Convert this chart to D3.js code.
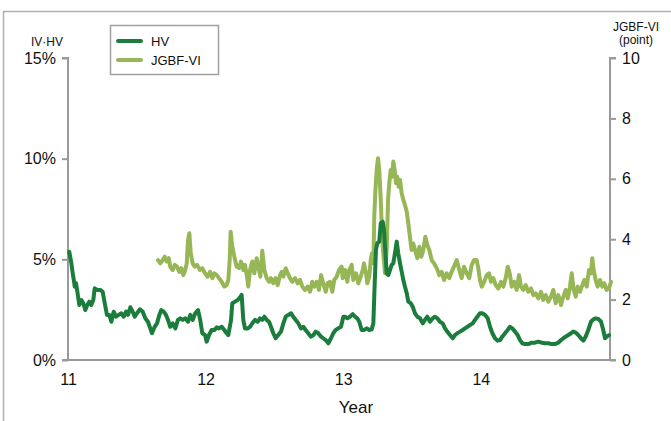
<!DOCTYPE html>
<html><head><meta charset="utf-8">
<script src="https://cdn.jsdelivr.net/npm/d3@7"></script>
<style>body{margin:0;background:#fff}svg{display:block}text{font-family:"Liberation Sans",Arial,sans-serif;fill:#111}</style>
</head><body><div id="chart"></div>
<script>
const xTickLabels = [11, 12, 13, 14];
const leftTicks = [0, 5, 10, 15];
const rightTicks = [0, 2, 4, 6, 8, 10];
const seriesNames = ["HV", "JGBF-VI"];

const hvYear = [11.009,11.024,11.034,11.044,11.049,11.058,11.068,11.082,11.097,11.111,11.126,11.140,11.155,11.169,11.184,11.194,11.211,11.235,11.252,11.267,11.283,11.300,11.315,11.332,11.349,11.368,11.387,11.405,11.422,11.436,11.453,11.470,11.485,11.504,11.523,11.543,11.562,11.581,11.598,11.610,11.630,11.647,11.664,11.678,11.695,11.712,11.727,11.743,11.761,11.780,11.799,11.816,11.834,11.852,11.872,11.889,11.906,11.925,11.945,11.961,11.976,11.996,12.008,12.025,12.044,12.063,12.081,12.097,12.117,12.136,12.153,12.165,12.185,12.194,12.214,12.233,12.250,12.262,12.274,12.286,12.306,12.323,12.339,12.359,12.379,12.395,12.412,12.427,12.444,12.461,12.475,12.492,12.509,12.528,12.548,12.565,12.582,12.601,12.621,12.637,12.655,12.674,12.693,12.710,12.727,12.746,12.766,12.783,12.800,12.819,12.839,12.855,12.873,12.892,12.911,12.928,12.945,12.964,12.984,13.001,13.013,13.030,13.049,13.069,13.086,13.102,13.117,13.134,13.151,13.171,13.190,13.207,13.219,13.229,13.238,13.248,13.262,13.273,13.287,13.297,13.304,13.316,13.328,13.340,13.352,13.364,13.376,13.389,13.400,13.413,13.425,13.437,13.449,13.462,13.473,13.491,13.505,13.522,13.539,13.558,13.578,13.594,13.611,13.631,13.650,13.667,13.684,13.703,13.723,13.740,13.756,13.776,13.796,13.813,13.829,13.849,13.868,13.885,13.902,13.922,13.941,13.958,13.975,13.994,14.011,14.031,14.050,14.067,14.084,14.103,14.123,14.140,14.156,14.176,14.195,14.212,14.229,14.249,14.268,14.285,14.302,14.321,14.345,14.370,14.394,14.418,14.443,14.467,14.491,14.515,14.539,14.563,14.583,14.600,14.617,14.636,14.656,14.672,14.690,14.708,14.728,14.745,14.762,14.781,14.801,14.818,14.835,14.854,14.874,14.890,14.903,14.915,14.932];
const hvValue = [5.38,4.82,4.32,3.89,3.64,3.82,3.39,2.73,2.98,2.82,2.48,2.73,2.90,2.73,2.98,3.56,3.48,3.48,3.39,2.82,2.24,2.24,1.90,2.40,2.15,2.24,2.32,2.15,2.40,2.24,2.62,2.40,2.15,2.35,2.52,2.40,2.07,1.90,1.57,1.33,1.65,1.82,2.24,2.48,2.40,2.24,1.99,1.65,1.82,1.57,1.99,2.07,1.99,2.07,1.90,2.24,1.99,2.32,2.48,1.99,1.33,1.24,0.91,1.24,1.49,1.49,1.62,1.57,1.65,1.49,1.33,1.24,1.99,2.82,2.90,2.98,3.11,3.23,1.99,1.57,1.57,1.65,1.82,1.99,1.90,2.07,1.99,2.15,1.99,1.90,1.65,1.33,1.08,1.24,1.41,1.82,2.15,2.24,2.32,2.15,1.99,1.82,1.57,1.65,1.49,1.33,1.16,1.24,1.41,1.33,1.16,1.08,0.99,0.83,1.08,1.33,1.49,1.57,1.65,2.15,2.15,2.07,2.15,2.28,2.15,2.07,1.90,1.49,1.49,1.57,1.49,1.52,1.82,3.81,5.46,5.80,5.88,6.79,6.87,6.46,5.63,4.31,4.22,4.47,4.72,4.80,5.30,5.88,5.30,4.80,4.39,3.97,3.64,3.31,2.90,2.82,2.65,2.32,2.15,2.07,1.82,1.99,2.15,1.90,2.07,2.15,2.07,1.90,1.82,1.57,1.41,1.24,1.08,1.24,1.33,1.41,1.49,1.57,1.65,1.74,1.82,1.99,2.15,2.32,2.32,2.24,2.07,1.65,1.33,1.08,0.96,0.99,1.16,1.33,1.49,1.65,1.57,1.41,1.24,0.99,0.83,0.79,0.79,0.86,0.86,0.91,0.86,0.83,0.83,0.79,0.79,0.86,0.99,1.08,1.16,1.24,1.33,1.41,1.36,1.24,1.08,0.96,1.16,1.49,1.90,2.02,2.07,2.04,1.90,1.49,1.08,1.16,1.24];

const viYear = [11.654,11.671,11.688,11.703,11.717,11.732,11.743,11.761,11.775,11.792,11.809,11.823,11.838,11.852,11.863,11.872,11.882,11.892,11.906,11.921,11.938,11.959,11.976,11.996,12.015,12.032,12.049,12.063,12.081,12.097,12.117,12.136,12.153,12.165,12.175,12.182,12.194,12.209,12.226,12.243,12.257,12.274,12.286,12.301,12.310,12.323,12.339,12.354,12.371,12.383,12.398,12.412,12.427,12.444,12.461,12.475,12.492,12.509,12.524,12.541,12.553,12.565,12.582,12.597,12.613,12.630,12.650,12.669,12.686,12.703,12.722,12.742,12.759,12.775,12.790,12.807,12.824,12.839,12.855,12.873,12.887,12.904,12.921,12.935,12.953,12.969,12.989,12.996,13.013,13.030,13.044,13.062,13.073,13.093,13.110,13.127,13.142,13.151,13.166,13.175,13.190,13.200,13.209,13.219,13.226,13.233,13.243,13.253,13.262,13.273,13.282,13.291,13.304,13.316,13.326,13.335,13.345,13.355,13.364,13.374,13.384,13.393,13.403,13.413,13.425,13.437,13.449,13.462,13.473,13.485,13.497,13.509,13.522,13.539,13.553,13.568,13.582,13.597,13.611,13.626,13.643,13.660,13.680,13.698,13.716,13.733,13.752,13.771,13.788,13.805,13.825,13.844,13.861,13.878,13.898,13.916,13.934,13.951,13.970,13.982,13.994,14.007,14.025,14.043,14.060,14.074,14.091,14.108,14.127,14.147,14.164,14.181,14.196,14.210,14.225,14.243,14.261,14.278,14.292,14.309,14.326,14.345,14.365,14.382,14.399,14.418,14.438,14.454,14.472,14.491,14.510,14.527,14.544,14.563,14.583,14.600,14.617,14.632,14.648,14.661,14.675,14.690,14.704,14.721,14.738,14.752,14.770,14.786,14.801,14.810,14.820,14.835,14.849,14.866,14.883,14.897,14.915,14.932,14.946];
const viValue = [3.31,3.20,3.31,3.42,3.26,3.37,3.09,2.98,3.15,3.09,2.92,3.04,2.81,2.98,3.20,3.97,4.20,3.53,3.20,3.09,3.15,2.98,3.04,2.87,2.76,2.92,2.71,2.87,2.81,2.71,2.59,2.43,2.48,2.65,3.31,4.25,3.75,3.42,3.09,3.04,3.26,2.98,3.15,2.76,2.43,2.98,3.26,2.87,3.37,3.09,2.76,3.62,2.98,2.71,2.59,2.71,2.54,2.71,2.48,2.81,2.92,2.76,3.04,2.87,2.71,2.59,2.71,2.54,2.65,2.43,2.32,2.43,2.26,2.59,2.43,2.59,2.32,2.81,2.54,2.26,2.54,2.59,2.26,2.65,2.76,2.98,3.09,2.71,2.98,2.59,2.98,3.15,2.65,2.87,2.54,2.76,2.98,3.20,2.87,2.54,2.76,3.31,3.53,3.20,4.75,5.52,6.29,6.68,6.29,5.30,4.20,3.53,2.87,3.64,5.30,5.85,6.29,6.07,6.57,6.29,5.85,6.07,5.74,5.96,5.52,5.30,5.13,4.91,4.53,4.08,3.64,3.86,3.64,3.37,3.75,3.42,3.64,4.08,3.81,3.64,3.31,3.20,3.04,2.81,2.92,2.65,2.87,2.71,2.92,3.09,3.31,2.98,2.71,3.09,2.87,2.71,3.15,3.31,3.31,3.04,2.65,2.43,2.59,2.81,2.87,2.59,2.71,2.48,2.37,2.59,2.43,2.71,3.09,2.87,2.43,2.59,2.32,2.81,2.43,2.32,2.48,2.26,2.37,2.15,2.21,2.04,2.26,1.99,2.15,1.93,2.10,2.32,1.88,2.15,1.82,2.10,2.32,2.04,2.43,2.87,2.32,2.10,2.43,2.26,2.48,2.65,2.43,2.98,2.87,3.37,2.98,2.65,2.43,2.65,2.43,2.54,2.32,2.37,2.59];

const W = 671, H = 421;
const m = {left: 68, right: 610, top: 58, bottom: 360};
const hvColor = "#1b7d3b", viColor = "#97b655", axisColor = "#9a9a9a";

const svg = d3.select("#chart").append("svg").attr("width", W).attr("height", H);

// outer frame
svg.append("path").attr("d", `M3.5,${H}V11.5H${W}`).attr("fill", "none").attr("stroke", "#b0b0b0").attr("stroke-width", 1.5);

const x = d3.scaleLinear().domain([11, 14.939]).range([m.left, m.right]);
const yL = d3.scaleLinear().domain([0, 15]).range([m.bottom, m.top]);
const yR = d3.scaleLinear().domain([0, 10]).range([m.bottom, m.top]);

const gL = svg.append("g").attr("transform", `translate(${m.left},0)`)
  .call(d3.axisLeft(yL).tickValues(leftTicks).tickFormat(d => d + "%").tickSize(6).tickPadding(6));
const gR = svg.append("g").attr("transform", `translate(${m.right},0)`)
  .call(d3.axisRight(yR).tickValues(rightTicks).tickFormat(d3.format("d")).tickSize(6).tickPadding(6));
const gB = svg.append("g").attr("transform", `translate(0,${m.bottom})`)
  .call(d3.axisBottom(x).tickValues(xTickLabels).tickFormat(d3.format("d")).tickSize(0).tickPadding(14));

[gL, gR, gB].forEach(g => {
  g.select(".domain").attr("stroke", axisColor).attr("stroke-width", 2);
  g.selectAll(".tick line").attr("stroke", axisColor).attr("stroke-width", 2);
  g.selectAll(".tick text").attr("font-size", 16).attr("fill", "#111").style("font-family", '"Liberation Sans",Arial,sans-serif');
});
gL.select(".domain").attr("d", `M-6,${m.top}H0V${m.bottom}H-6`);
gR.select(".domain").attr("d", `M6,${m.top}H0V${m.bottom}H6`);
gB.select(".domain").attr("d", `M${m.left},0H${m.right}`);

// axis titles
svg.append("text").attr("x", 47).attr("y", 46).attr("text-anchor", "middle").attr("font-size", 12).text("IV·HV");
svg.append("text").attr("x", 636).attr("y", 31).attr("text-anchor", "middle").attr("font-size", 12).text("JGBF-VI");
svg.append("text").attr("x", 636).attr("y", 44).attr("text-anchor", "middle").attr("font-size", 12).text("(point)");
svg.append("text").attr("x", (m.left + m.right) / 2 + 17).attr("y", 413).attr("text-anchor", "middle").attr("font-size", 17).text("Year");

// lines
const hvData = hvYear.map((t, i) => [t, hvValue[i]]);
const viData = viYear.map((t, i) => [t, viValue[i]]);
svg.append("path").datum(viData).attr("fill", "none").attr("stroke", viColor).attr("stroke-width", 4)
  .attr("stroke-linejoin", "round").attr("stroke-linecap", "round")
  .attr("d", d3.line().x(d => x(d[0])).y(d => yR(d[1])));
svg.append("path").datum(hvData).attr("fill", "none").attr("stroke", hvColor).attr("stroke-width", 4)
  .attr("stroke-linejoin", "round").attr("stroke-linecap", "round")
  .attr("d", d3.line().x(d => x(d[0])).y(d => yL(d[1])));

// legend
const lg = svg.append("g");
lg.append("rect").attr("x", 110.5).attr("y", 25.5).attr("width", 108).attr("height", 49)
  .attr("fill", "#fff").attr("stroke", "#a0a0a0").attr("stroke-width", 1.5);
[hvColor, viColor].forEach((c, i) => {
  const yy = 41 + i * 19;
  lg.append("line").attr("x1", 118).attr("x2", 141).attr("y1", yy).attr("y2", yy)
    .attr("stroke", c).attr("stroke-width", 4).attr("stroke-linecap", "round");
  lg.append("text").attr("x", 151).attr("y", yy + 5).attr("font-size", 13).text(seriesNames[i]);
});
</script></body></html>
